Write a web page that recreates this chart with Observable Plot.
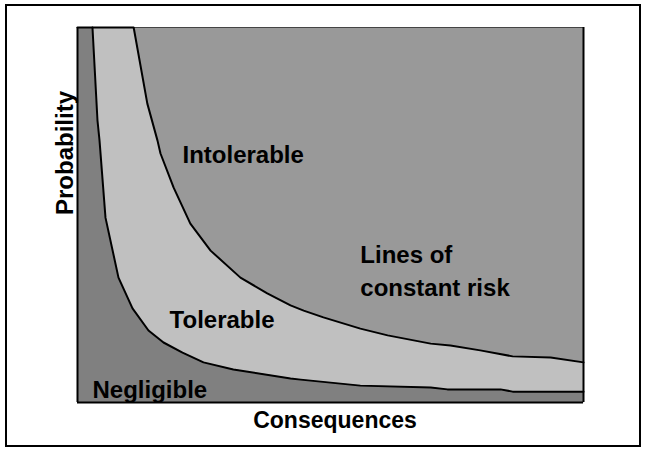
<!DOCTYPE html>
<html>
<head>
<meta charset="utf-8">
<script src="https://cdn.jsdelivr.net/npm/d3@7"></script>
<script src="https://cdn.jsdelivr.net/npm/@observablehq/plot@0.6"></script>
<style>
  html, body { margin: 0; padding: 0; background: #fff; }
  #wrap { position: relative; width: 646px; height: 449px; }
  #wrap svg { position: absolute; left: 0; top: 0; }
  #outer { position: absolute; left: 5px; top: 4px; width: 636px; height: 443px;
           box-sizing: border-box; border: 2px solid #000; pointer-events: none; }
</style>
</head>
<body>
<div id="wrap"><div id="outer"></div></div>
<script>
// Boundary between "Negligible" and "Tolerable" (consequence %, probability %)
const lowerX = [0, 2.96, 3.95, 4.35, 5.53, 8.1, 10.87, 14.03, 17.0, 20.75, 24.9, 30.8, 42.1, 44.1, 55.9, 69.8, 73.1, 83.6, 86.0, 100];
const lowerY = [100, 100, 75.2, 69.9, 49.3, 33.3, 25.1, 19.2, 16.0, 13.3, 10.7, 8.8, 6.4, 6.1, 4.5, 4.0, 3.5, 3.5, 2.9, 2.9];
// Boundary between "Tolerable" and "Intolerable"
const upperX = [0, 11.1, 13.8, 15.8, 16.4, 19.0, 22.3, 26.3, 32.2, 37.5, 42.1, 44.7, 48.6, 55.9, 61.3, 69.8, 73.7, 79.6, 86.0, 93.5, 100];
const upperY = [100, 100, 79.7, 69.9, 66.4, 57.3, 47.7, 40.5, 33.3, 29.1, 25.9, 24.5, 22.7, 19.7, 17.9, 15.7, 15.2, 13.9, 12.3, 12.0, 10.7];
// Region labels
const labelText = ["Intolerable", "Lines of\nconstant risk", "Tolerable", "Negligible"];
const labelX = [20.75, 55.9, 18.2, 2.96];
const labelY = [64.0, 28.5, 20.0, 1.33];
const xLabel = "Consequences";
const yLabel = "Probability";

const lower = lowerX.map((x, i) => ({x, y: lowerY[i]}));
const upper = upperX.map((x, i) => ({x, y: upperY[i]}));
const labels = labelText.map((t, i) => ({t, x: labelX[i], y: labelY[i]}));

const font = "'Liberation Sans', Arial, sans-serif";

const chart = Plot.plot({
  width: 646,
  height: 449,
  marginLeft: 77,
  marginRight: 63,
  marginTop: 27,
  marginBottom: 47,
  x: {domain: [0, 100], axis: null},
  y: {domain: [0, 100], axis: null},
  style: {fontFamily: font, fontWeight: "bold", fontSize: "24px", background: "transparent", overflow: "visible"},
  marks: [
    Plot.frame({fill: "#999999", stroke: null}),
    Plot.areaY(upper, {x: "x", y: "y", fill: "#c0c0c0"}),
    Plot.areaY(lower.slice(1).length ? lower : lower, {x: "x", y: "y", fill: "#808080"}),
    Plot.ruleY([100], {stroke: "#444", strokeWidth: 1}),
    Plot.line(upper, {x: "x", y: "y", stroke: "#000", strokeWidth: 2}),
    Plot.line(lower.slice(1), {x: "x", y: "y", stroke: "#000", strokeWidth: 2}),
    Plot.ruleX([0, 100], {stroke: "#000", strokeWidth: 2}),
    Plot.ruleY([0], {stroke: "#000", strokeWidth: 2}),
    Plot.text(labels, {x: "x", y: "y", text: "t", textAnchor: "start", lineAnchor: "bottom",
      lineHeight: 1.375, fill: "#000", fontSize: 24, fontWeight: "bold"}),
    Plot.text([xLabel], {frameAnchor: "bottom", dy: 18.5, dx: 4.5, lineAnchor: "middle",
      fill: "#000", fontSize: 23, fontWeight: "bold"}),
    Plot.text([yLabel], {frameAnchor: "left", dx: -12, rotate: -90, lineAnchor: "middle",
      fill: "#000", fontSize: 24, fontWeight: "bold"})
  ]
});
document.getElementById("wrap").insertBefore(chart, document.getElementById("outer"));
</script>
</body>
</html>
